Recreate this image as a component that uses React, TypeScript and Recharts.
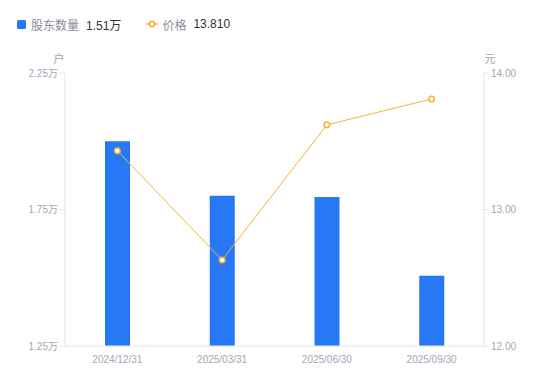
import React from 'react';
import { ComposedChart, Bar, Line, XAxis, YAxis, Label } from 'recharts';

const categories = ['2024/12/31', '2025/03/31', '2025/06/30', '2025/09/30'];
const holders = [2.0, 1.8, 1.796, 1.507];
const prices = [13.43, 12.63, 13.62, 13.81];
const leftTicks = [1.25, 1.75, 2.25];
const rightTicks = [12, 13, 14];

const data = categories.map((c, i) => ({ date: c, holders: holders[i], price: prices[i] }));

const FONT = '"Liberation Sans", "Noto Sans CJK SC", sans-serif';
const BLUE = '#2678f6';
const ORANGE = '#f7b136';
const TICK = '#a3a6b4';
const AXIS = '#e3e4ea';

const LegendContent = () => (
  <div style={{ position: 'absolute', left: 0, top: 14, display: 'flex', alignItems: 'center', fontFamily: FONT, fontSize: 12, height: 20, zIndex: 2 }}>
    <span style={{ width: 9, height: 9, background: BLUE, borderRadius: 1.5, display: 'inline-block', marginLeft: 17 }} />
    <span style={{ color: '#8a8d99', marginLeft: 5 }}>股东数量</span>
    <span style={{ color: '#333', marginLeft: 7 }}>1.51万</span>
    <svg width={12} height={10} style={{ marginLeft: 25 }}>
      <line x1={0} y1={5} x2={12} y2={5} stroke={ORANGE} strokeWidth={1.5} />
      <circle cx={6} cy={5} r={2.6} fill="#fff" stroke={ORANGE} strokeWidth={1.6} />
    </svg>
    <span style={{ color: '#8a8d99', marginLeft: 4 }}>价格</span>
    <span style={{ color: '#333', marginLeft: 7 }}>13.810</span>
  </div>
);

export default function App() {
  return (
    <div style={{ position: 'absolute', left: 0, top: 0, width: 550, height: 381, background: '#fff' }}>
      <LegendContent />
      <ComposedChart width={550} height={381} data={data} margin={{ top: 73, right: 0, bottom: 0, left: 0 }}>
        <XAxis
          dataKey="date"
          height={35}
          tick={{ fill: TICK, fontSize: 10, fontFamily: FONT }}
          tickLine={false}
          axisLine={{ stroke: AXIS }}
          tickMargin={4}
        />
        <YAxis
          yAxisId="left"
          width={65}
          domain={[1.25, 2.25]}
          ticks={leftTicks}
          tickFormatter={(v: number) => `${v.toFixed(2)}万`}
          tick={{ fill: TICK, fontSize: 10, fontFamily: FONT }}
          tickLine={{ stroke: AXIS }}
          tickSize={5}
          tickMargin={2}
          axisLine={{ stroke: AXIS }}
          interval={0}
        >
          <Label
            content={({ viewBox }: any) => (
              <text x={viewBox.x + viewBox.width - 6} y={viewBox.y - 10} textAnchor="middle" fill={TICK} fontSize={11} fontFamily={FONT}>户</text>
            )}
          />
        </YAxis>
        <YAxis
          yAxisId="right"
          orientation="right"
          width={66}
          domain={[12, 14]}
          ticks={rightTicks}
          tickFormatter={(v: number) => v.toFixed(2)}
          tick={{ fill: TICK, fontSize: 10, fontFamily: FONT }}
          tickLine={{ stroke: AXIS }}
          tickSize={5}
          tickMargin={2}
          axisLine={{ stroke: AXIS }}
          interval={0}
        >
          <Label
            content={({ viewBox }: any) => (
              <text x={viewBox.x + 6} y={viewBox.y - 10} textAnchor="middle" fill={TICK} fontSize={11} fontFamily={FONT}>元</text>
            )}
          />
        </YAxis>
        <Bar yAxisId="left" dataKey="holders" fill={BLUE} barSize={25} isAnimationActive={false} />
        <Line
          yAxisId="right"
          dataKey="price"
          stroke={ORANGE}
          strokeWidth={1}
          dot={{ r: 2.8, fill: '#fff', stroke: ORANGE, strokeWidth: 1.5 }}
          activeDot={false}
          isAnimationActive={false}
        />
      </ComposedChart>
    </div>
  );
}
